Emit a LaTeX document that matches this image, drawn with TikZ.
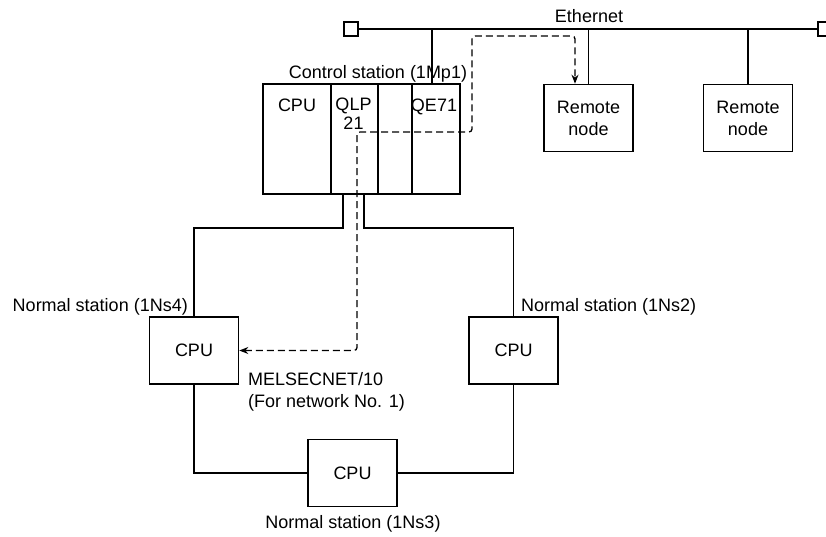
\documentclass[tikz,border=0pt]{standalone}
\usepackage{fontspec}
\setmainfont{Liberation Sans}
\usepackage{tikz}
\usetikzlibrary{arrows.meta}
\tikzstyle{slot} = [rectangle, minimum height=110pt, draw=black, line width=1.6pt, inner sep=0pt]
\tikzstyle{station} = [rectangle, minimum width=89pt, minimum height=67pt, text centered, align=center, draw=black, line width=1.6pt]
\tikzstyle{port} = [rectangle, minimum size=14pt, inner sep=0pt, draw=black, fill=white, line width=1.6pt]
\tikzstyle{caption} = [inner sep=0pt]
\tikzstyle{cable} = [line width=1.6pt]
\tikzstyle{arrow} = [line width=1.3pt, dash pattern=on 7pt off 4pt, rounded corners=3pt, {Stealth[length=9pt,width=7pt]}-{Stealth[length=9pt,width=7pt]}]

\begin{document}
\begin{tikzpicture}[x=1pt, y=-1pt, font=\fontsize{18}{22}\selectfont]
        \useasboundingbox (0,0) rectangle (826,536);

        % Control station rack
        \node (slotcpu) [slot, minimum width=68pt] at (297,139) {};
        \node (slotqlp) [slot, minimum width=47pt] at (354.5,139) {};
        \node (slotnone) [slot, minimum width=34pt] at (395,139) {};
        \node (slotqe) [slot, minimum width=48pt] at (436,139) {};
        \node [caption, anchor=base] at ([yshift=-28pt]slotcpu.north) {CPU};
        \node [caption, anchor=north, align=center] at ([yshift=-15pt, xshift=-1pt]slotqlp.north) {QLP\\[-3pt]21};
        \node [caption, anchor=base] at ([yshift=-28pt, xshift=-2pt]slotqe.north) {QE71};
        \node (mp1) [caption, anchor=base] at (378,78) {Control station (1Mp1)};

        % Ethernet
        \node (portl) [port] at (351,29) {};
        \node (portr) [port] at (825,29) {};
        \node (ether) [caption, anchor=base] at (589,22) {Ethernet};
        \node (rn1) [station] at (588.5,118) {Remote\\node};
        \node (rn2) [station, right of=rn1, node distance=159.5pt] {Remote\\node};
        \coordinate (tapmp) at (432,84);

        % MELSECNET/10 stations
        \node (cpu4) [station] at (194,350.5) {CPU};
        \node (cpu2) [station] at (513.5,350.5) {CPU};
        \node (cpu3) [station] at (352.5,473) {CPU};
        \node (ns4) [caption, anchor=base east] at (188,311) {Normal station (1Ns4)};
        \node (ns2) [caption, anchor=base west] at (521,311) {Normal station (1Ns2)};
        \node (ns3) [caption, anchor=base] at (353,528) {Normal station (1Ns3)};
        \node (mnet) [caption, anchor=north west, align=left] at (248,372) {MELSECNET/10\\(For network No. 1)};
        \coordinate (tapl) at (343,194);
        \coordinate (tapr) at (364,194);
        \coordinate (ringtop) at (0,228);
        \coordinate (relay) at (357,132);
        \coordinate (tap) at (575,36);

        % Cables
        \draw [cable] (portl) -- (portr);
        \draw [cable] (tapmp) -- (tapmp |- portl);
        \draw [cable] (rn1.north) -- (rn1.north |- portl);
        \draw [cable] (rn2.north) -- (rn2.north |- portl);
        \draw [cable] (tapl) -- (tapl |- ringtop) -- (cpu4.north |- ringtop) -- (cpu4.north);
        \draw [cable] (tapr) -- (tapr |- ringtop) -- (cpu2.north |- ringtop) -- (cpu2.north);
        \draw [cable] (cpu4.south) |- (cpu3.west);
        \draw [cable] (cpu2.south) |- (cpu3.east);

        % Relay route
        \draw [arrow] (cpu4.east) -- (relay |- cpu4.east) -- (relay) -- (472,132) -- (472,36) -- (tap) -- (tap |- rn1.north);

        \end{tikzpicture}
\end{document}
